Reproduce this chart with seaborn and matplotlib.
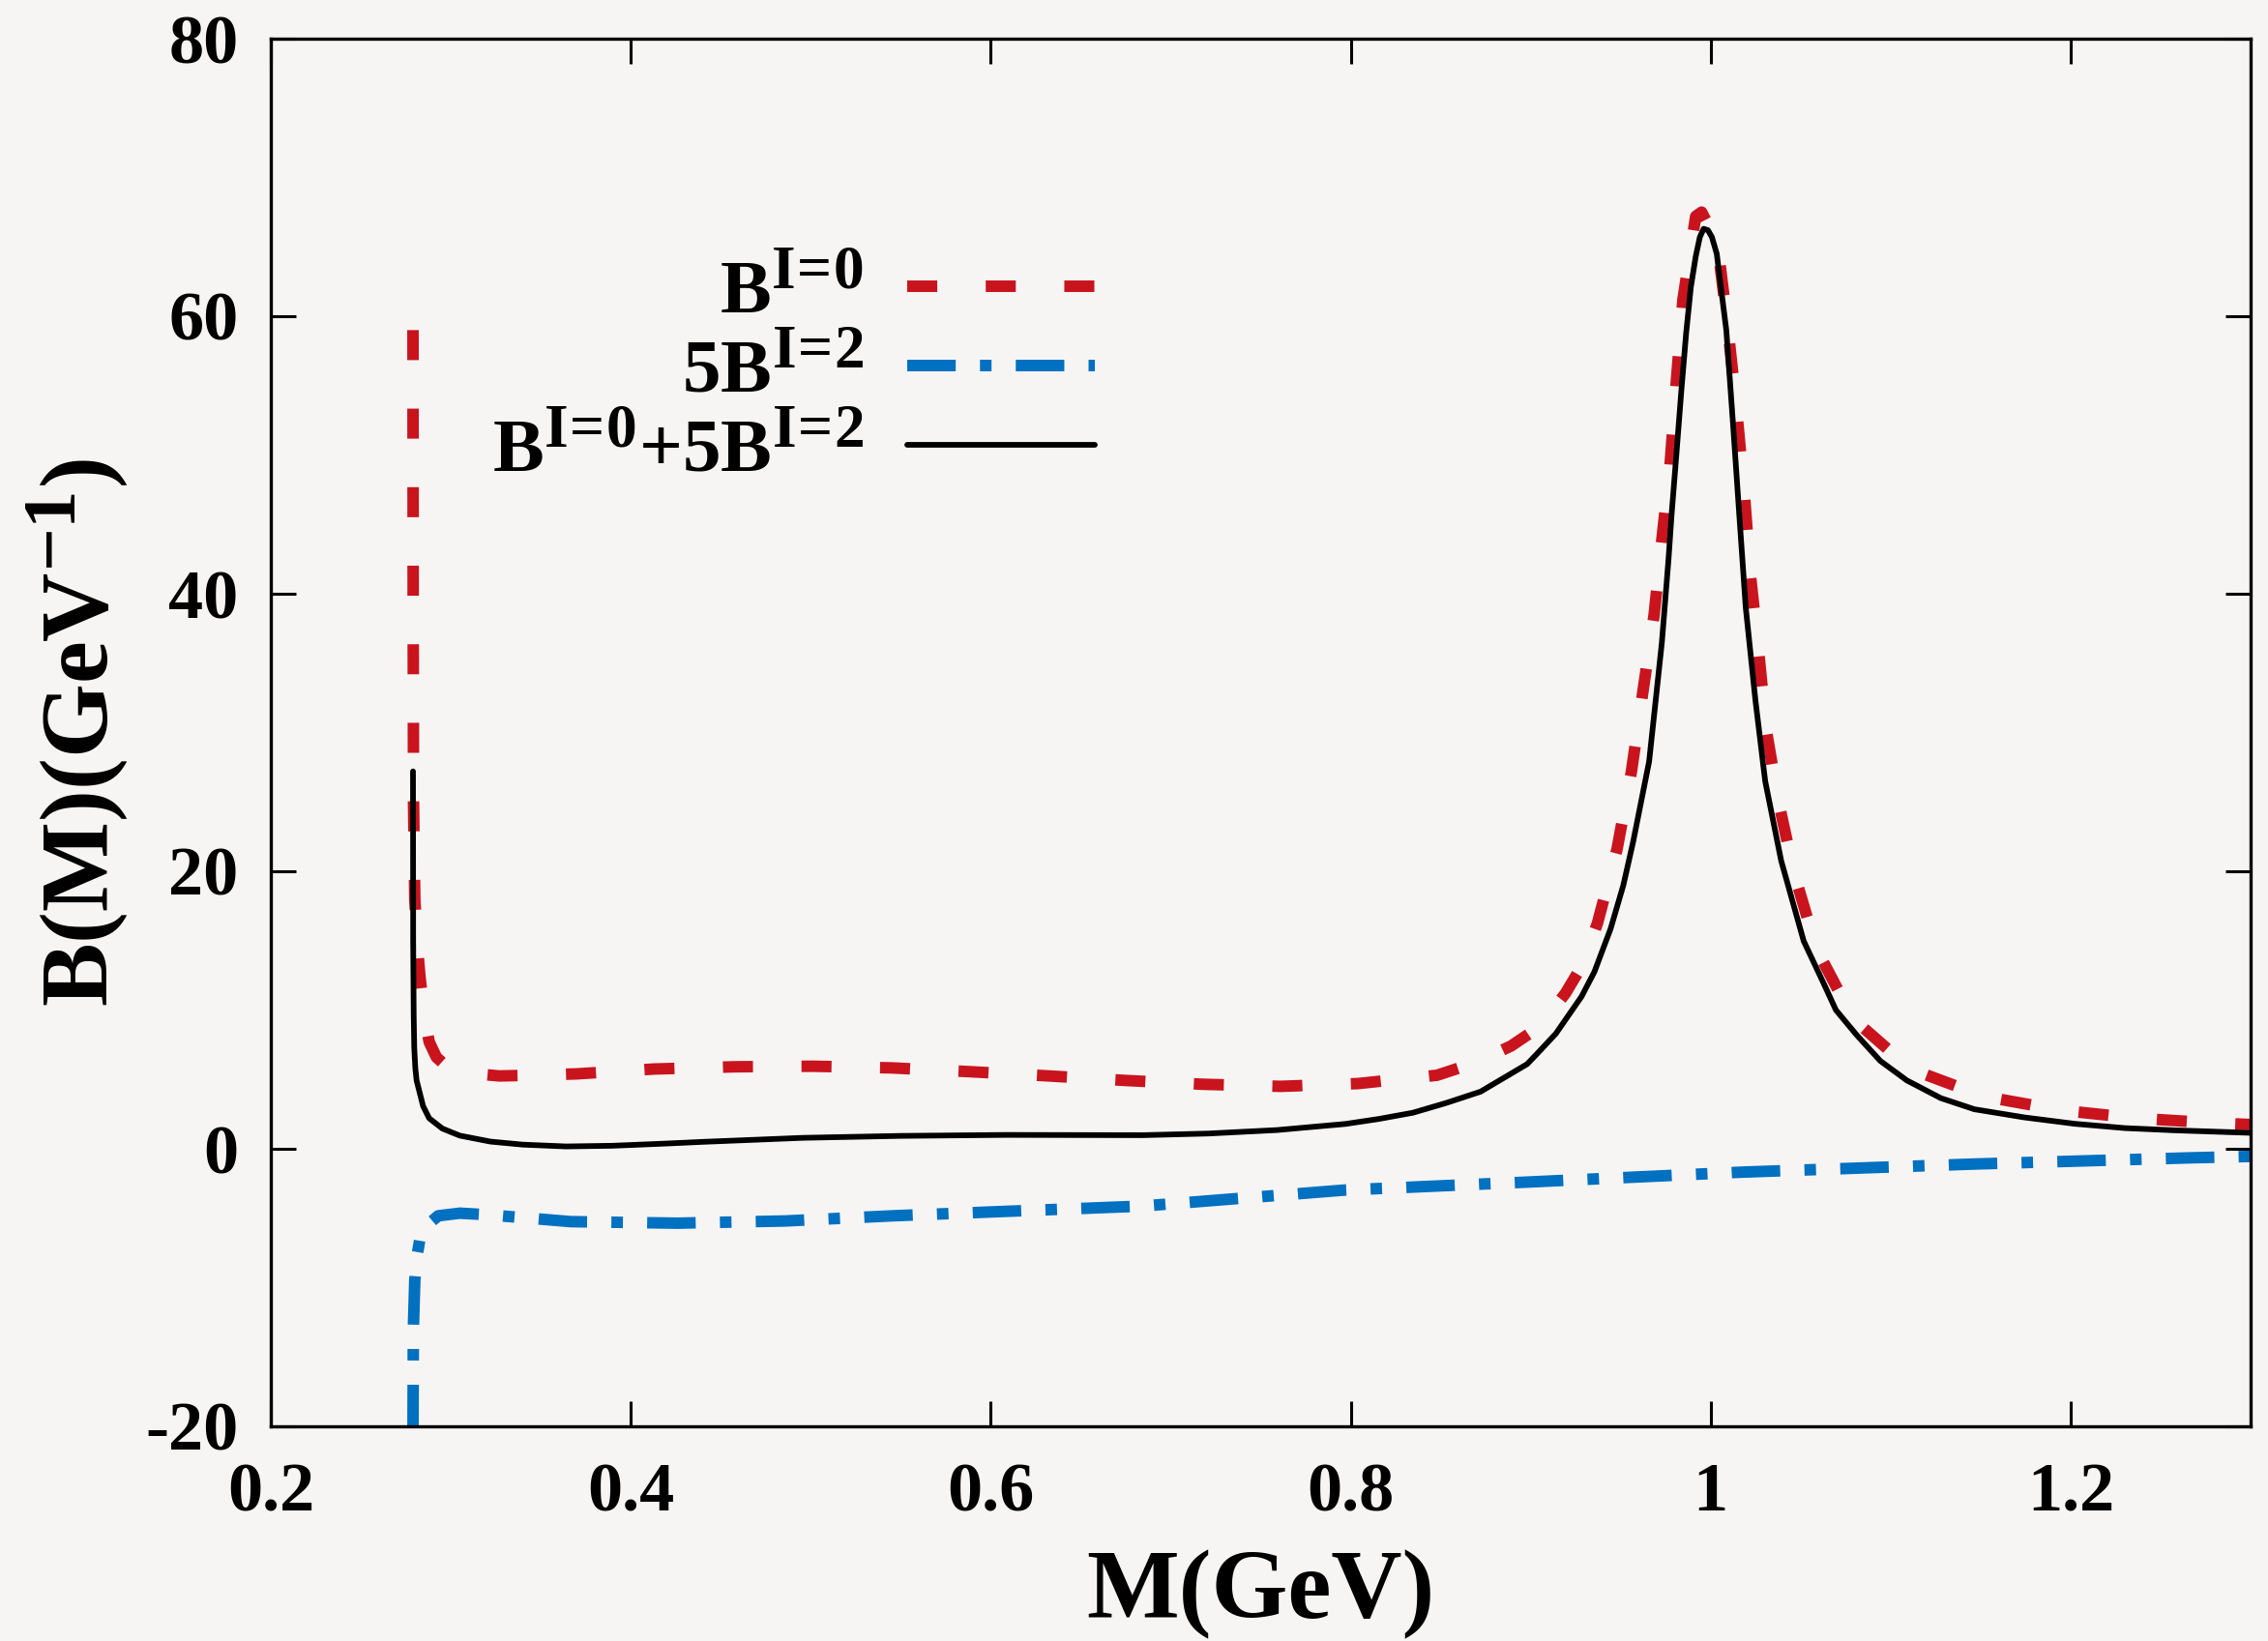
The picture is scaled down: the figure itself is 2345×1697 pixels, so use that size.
import matplotlib
matplotlib.use("Agg")
import matplotlib.pyplot as plt
import matplotlib._mathtext as _mt
import pandas as pd
import seaborn as sns

# ---------------- data ----------------
m_b0 = [0.2790, 0.2791, 0.2793, 0.2800, 0.2815, 0.2828, 0.2845, 0.2865, 0.2880,
        0.2920, 0.2980, 0.3100, 0.3270, 0.3450, 0.3700, 0.4130, 0.4580, 0.5010,
        0.5450, 0.5880, 0.6310, 0.6740, 0.7180, 0.7610, 0.8040, 0.8480, 0.8690,
        0.8890, 0.9050, 0.9193, 0.9290, 0.9372, 0.9480, 0.9560, 0.9622, 0.9686,
        0.9729, 0.9774, 0.9810, 0.9846, 0.9885, 0.9917, 0.9950, 0.9985, 1.0042,
        1.0097, 1.0141, 1.0186, 1.0222, 1.0266, 1.0310, 1.0374, 1.0463, 1.0588,
        1.0793, 1.1110, 1.1520, 1.1950, 1.2380, 1.2820, 1.3000]
b_b0 = [59.0, 40.0, 25.0, 18.0, 14.5, 12.5, 10.5, 8.8, 7.7,
        6.6, 5.9, 5.45, 5.25, 5.3, 5.4, 5.75, 5.91, 5.95,
        5.83, 5.56, 5.26, 4.93, 4.65, 4.5, 4.7, 5.3, 6.2,
        7.4, 8.8, 11.2, 13.3, 16.3, 21.6, 27.2, 32.8, 38.5,
        43.9, 49.2, 55.4, 61.2, 64.5, 67.2, 67.5, 66.6, 64.8,
        59.0, 53.7, 47.4, 41.2, 35.9, 30.1, 25.2, 19.9, 14.4,
        9.35, 5.75, 3.77, 2.77, 2.19, 1.84, 1.75]

m_b2 = [0.2790, 0.2792, 0.2800, 0.2810, 0.2827, 0.2860, 0.2930, 0.3050, 0.3200,
        0.3360, 0.3668, 0.4260, 0.4860, 0.5455, 0.6100, 0.6840, 0.7970, 0.8980,
        1.0160, 1.1460, 1.2670, 1.3000]
b_b2 = [-20.5, -13.0, -9.5, -7.9, -6.6, -5.6, -4.83, -4.64, -4.75,
        -4.92, -5.25, -5.36, -5.2, -4.83, -4.5, -4.13, -2.97, -2.4,
        -1.69, -1.1, -0.65, -0.55]

m_sum = [0.2790, 0.2791, 0.2794, 0.2797, 0.2803, 0.2810, 0.2846, 0.2880, 0.2953,
         0.3050, 0.3220, 0.3400, 0.3640, 0.3900, 0.4200, 0.4400, 0.4957, 0.5500,
         0.6086, 0.6840, 0.7210, 0.7590, 0.7970, 0.8156, 0.8346, 0.8530, 0.8722,
         0.8817, 0.8980, 0.9032, 0.9140, 0.9283, 0.9354, 0.9444, 0.9515, 0.9569,
         0.9658, 0.9697, 0.9729, 0.9766, 0.9783, 0.9810, 0.9837, 0.9864, 0.9890,
         0.9917, 0.9940, 0.9961, 0.9985, 1.0007, 1.0034, 1.0052, 1.0087, 1.0124,
         1.0159, 1.0195, 1.0249, 1.0303, 1.0392, 1.0517, 1.0625, 1.0696, 1.0812,
         1.0943, 1.1090, 1.1279, 1.1465, 1.1744, 1.2024, 1.2304, 1.2580, 1.3000]
b_sum = [27.2, 15.0, 9.6, 7.26, 5.8, 4.93, 3.08, 2.2, 1.46,
         0.95, 0.52, 0.3, 0.17, 0.22, 0.38, 0.5, 0.79, 0.93,
         1.0, 0.98, 1.1, 1.35, 1.79, 2.15, 2.6, 3.3, 4.12,
         4.85, 6.1, 6.8, 8.3, 10.98, 12.75, 15.85, 19.0, 22.1,
         27.9, 32.6, 36.5, 42.5, 45.7, 50.1, 54.6, 58.8, 62.1,
         64.3, 65.7, 66.3, 66.2, 65.7, 64.5, 62.6, 59.0, 52.3,
         45.7, 39.0, 32.3, 26.5, 20.75, 14.97, 12.0, 10.0, 8.19,
         6.33, 4.93, 3.65, 2.85, 2.26, 1.8, 1.49, 1.33, 1.15]

labels = [r"B$^{\mathrm{I\!=\!0}}$", r"5B$^{\mathrm{I\!=\!2}}$",
          r"B$^{\mathrm{I\!=\!0}}$+5B$^{\mathrm{I\!=\!2}}$"]
xticks = [0.2, 0.4, 0.6, 0.8, 1.0, 1.2]
xtick_labels = ["0.2", "0.4", "0.6", "0.8", "1", "1.2"]
yticks = [-20, 0, 20, 40, 60, 80]
ytick_labels = ["-20", "0", "20", "40", "60", "80"]

# ---------------- style ----------------
sns.set_theme(style="ticks")
plt.rcParams["font.family"] = ["Liberation Serif"]
plt.rcParams["font.weight"] = "bold"
plt.rcParams["mathtext.fontset"] = "custom"
plt.rcParams["mathtext.rm"] = "Liberation Serif:bold"
plt.rcParams["mathtext.it"] = "Liberation Serif:bold"
plt.rcParams["mathtext.bf"] = "Liberation Serif:bold"
for k in ["text.color", "axes.labelcolor", "xtick.color", "ytick.color",
          "axes.edgecolor"]:
    plt.rcParams[k] = "black"
# superscripts in the reference are only slightly smaller than the base text
_mt.SHRINK_FACTOR = 0.8

bg = "#f6f5f3"
red = "#c9141e"
blue = "#0070c0"

fig, ax = plt.subplots(figsize=(23.45, 16.97), dpi=100)
fig.patch.set_facecolor(bg)
ax.set_facecolor(bg)
fig.subplots_adjust(left=280 / 2345, right=2327 / 2345,
                    top=1 - 40 / 1697, bottom=1 - 1475 / 1697)

df0 = pd.DataFrame({"M": m_b0, "B": b_b0})
df2 = pd.DataFrame({"M": m_b2, "B": b_b2})
dfs = pd.DataFrame({"M": m_sum, "B": b_sum})

sns.lineplot(data=df0, x="M", y="B", ax=ax, color=red, linewidth=8.6,
             linestyle=(0, (2.6, 4.2)), sort=False, estimator=None,
             label=labels[0])
sns.lineplot(data=df2, x="M", y="B", ax=ax, color=blue, linewidth=8.6,
             linestyle=(0, (4.2, 2.1, 1.0, 2.1)), sort=False, estimator=None,
             label=labels[1])
sns.lineplot(data=dfs, x="M", y="B", ax=ax, color="black", linewidth=4.2,
             sort=False, estimator=None, label=labels[2])

ax.set_xlim(0.2, 1.3)
ax.set_ylim(-20, 80)
ax.set_xticks(xticks)
ax.set_xticklabels(xtick_labels)
ax.set_yticks(yticks)
ax.set_yticklabels(ytick_labels)
ax.tick_params(axis="both", direction="in", length=18.7, width=2.2,
               top=True, right=True, labelsize=52, colors="black")
ax.tick_params(axis="x", pad=27)
ax.tick_params(axis="y", pad=24)
for sp in ax.spines.values():
    sp.set_linewidth(2.4)
    sp.set_color("black")

ax.set_xlabel("M(GeV)", fontsize=73, fontweight="bold", labelpad=18)
ax.set_ylabel(r"B(M)(GeV$^{\mathrm{-1}}$)", fontsize=71, fontweight="bold",
              labelpad=12)

handles, _ = ax.get_legend_handles_labels()
ax.legend(handles, labels, loc="upper right",
          bbox_to_anchor=(1132 / 2345, 1 - 268 / 1697),
          bbox_transform=fig.transFigure, frameon=False, markerfirst=False,
          fontsize=57, handlelength=2.45, handletextpad=0.57,
          labelspacing=0.12, borderpad=0, borderaxespad=0)

fig.savefig("out.png", dpi=100, facecolor=bg)
